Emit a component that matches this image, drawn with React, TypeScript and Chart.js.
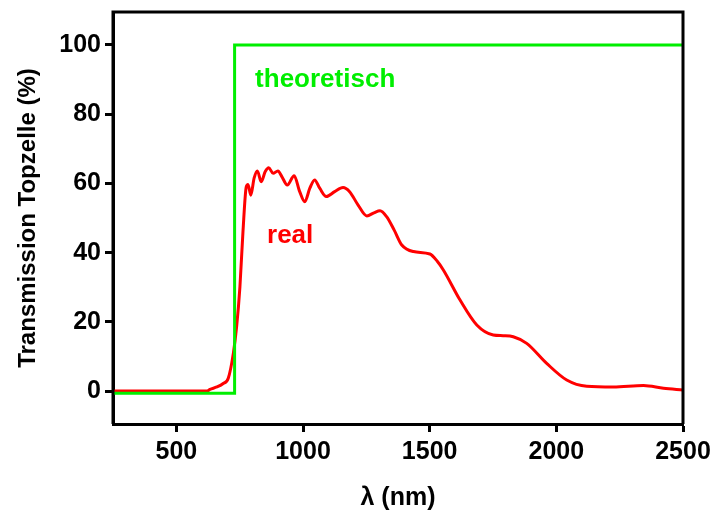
import React, { useEffect, useRef } from "react";
import { Chart, registerables } from "chart.js";

Chart.register(...registerables);

// Measured "real" transmission curve
const wavelengthReal = [250, 400, 550, 620, 633, 660, 685, 705, 725, 738, 751, 763, 776, 783, 794, 807, 820, 835, 851, 865, 882, 901, 917, 938, 965, 987, 1007, 1027, 1046, 1066, 1092, 1125, 1158, 1184, 1217, 1252, 1280, 1304, 1330, 1360, 1390, 1436, 1501, 1530, 1554, 1620, 1686, 1751, 1790, 1830, 1883, 1962, 2041, 2120, 2225, 2344, 2423, 2500];
const transmissionReal = [0, 0, 0, 0, 0.5, 1.2, 2.2, 3.7, 10.9, 18.6, 30.1, 46, 59, 59.7, 56.6, 61.5, 63.6, 60.5, 63.4, 64.5, 62.9, 63.6, 61.9, 59.5, 62.2, 57.6, 54.7, 58.6, 61.0, 58.6, 56.2, 57.6, 58.8, 57.6, 53.8, 50.6, 51.5, 52.1, 50.4, 46.5, 42.2, 40.3, 39.6, 37.5, 35.0, 26.3, 19.1, 16.2, 16.0, 15.7, 13.8, 8.0, 3.2, 1.4, 1.2, 1.6, 0.8, 0.3];

// Theoretical step curve
const wavelengthTheo = [250, 730, 730, 2500];
const transmissionTheo = [-0.6, -0.6, 100, 100];

const xTicks = [500, 1000, 1500, 2000, 2500];
const yTicks = [0, 20, 40, 60, 80, 100];

const labelTheo = { text: "theoretisch", x: 811, y: 87.8 };
const labelReal = { text: "real", x: 858, y: 42.8 };

const GREEN = "#00ee00";
const RED = "#ff0000";
const FONT = "'Liberation Sans', Arial, sans-serif";

const zeroPad = (s: any) => {
  s.paddingTop = 0;
  s.paddingBottom = 0;
  s.paddingLeft = 0;
  s.paddingRight = 0;
};

export default function App() {
  const ref = useRef<HTMLCanvasElement>(null);

  useEffect(() => {
    if (!ref.current) return;
    const framePlugin = {
      id: "frame",
      afterDraw(chart: any) {
        const { ctx, chartArea: a, scales } = chart;
        ctx.save();
        ctx.strokeStyle = "#000";
        ctx.lineWidth = 3;
        ctx.beginPath();
        ctx.moveTo(a.left, a.bottom);
        ctx.lineTo(a.left, a.top);
        ctx.lineTo(a.right, a.top);
        ctx.lineTo(a.right, a.bottom);
        ctx.stroke();
        ctx.font = `bold 26px ${FONT}`;
        ctx.textAlign = "left";
        ctx.textBaseline = "alphabetic";
        ctx.fillStyle = GREEN;
        ctx.fillText(labelTheo.text, scales.x.getPixelForValue(labelTheo.x), scales.y.getPixelForValue(labelTheo.y));
        ctx.fillStyle = RED;
        ctx.fillText(labelReal.text, scales.x.getPixelForValue(labelReal.x), scales.y.getPixelForValue(labelReal.y));
        ctx.restore();
      },
    };

    const chart = new Chart(ref.current, {
      type: "line",
      data: {
        datasets: [
          {
            label: "theoretisch",
            data: wavelengthTheo.map((x, i) => ({ x, y: transmissionTheo[i] })),
            borderColor: GREEN,
            borderWidth: 3,
            pointRadius: 0,
            tension: 0,
          },
          {
            label: "real",
            data: wavelengthReal.map((x, i) => ({ x, y: transmissionReal[i] })),
            borderColor: RED,
            borderWidth: 3,
            pointRadius: 0,
            cubicInterpolationMode: "monotone",
          },
        ],
      },
      options: {
        responsive: false,
        animation: false,
        layout: { padding: { top: 12, right: 30, left: 0, bottom: 0 } },
        plugins: { legend: { display: false }, tooltip: { enabled: false } },
        scales: {
          x: {
            type: "linear",
            min: 250,
            max: 2500,
            afterBuildTicks: (s: any) => {
              s.ticks = xTicks.map((v) => ({ value: v }));
            },
            afterFit: (s: any) => {
              s.height = 87;
              zeroPad(s);
            },
            border: { display: true, color: "#000", width: 3 },
            grid: { display: true, drawOnChartArea: false, drawTicks: true, tickLength: 8, tickWidth: 3, tickColor: "#000" },
            ticks: { color: "#000", font: { family: FONT, size: 25, weight: "bold" }, padding: 5, maxRotation: 0, callback: (v: any) => String(v) },
            title: { display: true, text: "λ (nm)", color: "#000", font: { family: FONT, size: 25, weight: "bold", lineHeight: 1 }, padding: { top: 0, bottom: 0 } },
          },
          y: {
            type: "linear",
            min: -9.5,
            max: 109.5,
            afterBuildTicks: (s: any) => {
              s.ticks = yTicks.map((v) => ({ value: v }));
            },
            afterFit: (s: any) => {
              s.width = 113;
              zeroPad(s);
            },
            border: { display: true, color: "#000", width: 3 },
            grid: { display: true, drawOnChartArea: false, drawTicks: true, tickLength: 8, tickWidth: 3, tickColor: "#000" },
            ticks: { color: "#000", font: { family: FONT, size: 25, weight: "bold" }, padding: 4, callback: (v: any) => String(v) },
            title: { display: true, text: "Transmission Topzelle (%)", color: "#000", font: { family: FONT, size: 24, weight: "bold" }, padding: { top: 14, bottom: 0 } },
          },
        },
      },
      plugins: [framePlugin],
    });
    return () => chart.destroy();
  }, []);

  return (
    <div style={{ position: "fixed", left: 0, top: 0, width: 713, height: 511, background: "#fff" }}>
      <canvas ref={ref} width={713} height={511} style={{ display: "block" }} />
    </div>
  );
}
